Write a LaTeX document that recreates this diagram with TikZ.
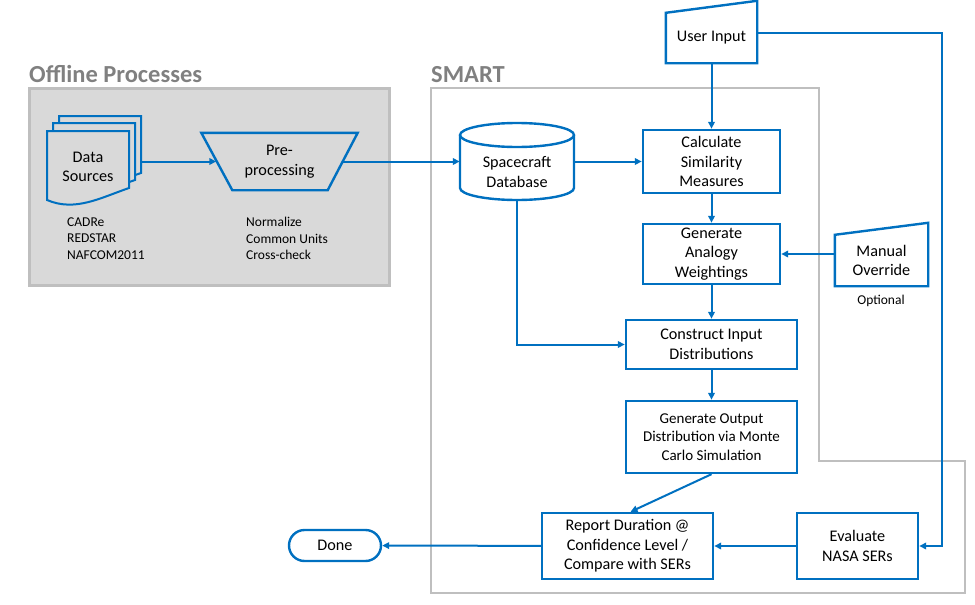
\documentclass[tikz,border=0pt]{standalone}
\usepackage{fontspec}
\setmainfont{Carlito}
\usetikzlibrary{arrows.meta}

\definecolor{smartblue}{RGB}{0,112,192}
\definecolor{panelgray}{RGB}{217,217,217}
\definecolor{framegray}{RGB}{191,191,191}
\definecolor{titlegray}{RGB}{128,128,128}

\begin{document}
\begin{tikzpicture}[x=1pt,y=-1pt,
  flow/.style={draw=smartblue,line width=2.4pt,fill=white,align=center,inner sep=0pt,font=\fontsize{16.2}{19.5}\selectfont},
  plain/.style={align=center,inner sep=0pt,font=\fontsize{16.2}{19.5}\selectfont},
  outline/.style={draw=smartblue,line width=2.4pt},
  note/.style={align=left,inner sep=0pt,font=\fontsize{13.5}{16.5}\selectfont},
  link/.style={draw=smartblue,line width=2pt},
  arr/.style={link,-{Triangle[length=7pt,width=6.5pt]}},
  title/.style={font=\fontsize{24.5}{26}\selectfont\bfseries,text=titlegray,inner sep=0pt,anchor=base west}]
\useasboundingbox (0,0) rectangle (975,605);

% Frames
\draw[framegray,line width=3pt,fill=panelgray] (29,88) rectangle (389,285);
\draw[framegray,line width=2.5pt] (431,88) -- (819,88) -- (819,461) -- (965,461) -- (965,593) -- (431,593) -- cycle;
\node[title] (offtitle) at (29,82) {Offline Processes};
\node[title] (smarttitle) at (431,82) {SMART};

% Data sources (stack of documents)
\foreach \dx/\dy in {12/-15,6/-8,0/0} {
  \draw[outline,line width=2pt,fill=panelgray,shift={(\dx,\dy)}] (47,131) -- (129,131) -- (129,188)
    .. controls (100,198) and (75,212) .. (47,200) -- cycle;
}
\node[plain,minimum width=82pt,minimum height=70pt] (src) at (88,167) {Data\\Sources};
\node[note,anchor=west] (srcnote) at (67,238.5) {CADRe\\REDSTAR\\NAFCOM2011};

% Pre-processing
\node[plain,minimum width=156pt,minimum height=57pt] (pre) at (279.5,161.5) {Pre-\\processing};
\draw[outline] (pre.north west) -- (pre.north east) -- ([xshift=-30pt]pre.south east) -- ([xshift=31pt]pre.south west) -- cycle;
\node[note,anchor=west] (prenote) at (246,238.5) {Normalize\\Common Units\\Cross-check};

% Database
\draw[outline,fill=white] (460,135) -- (460,188) arc[start angle=180,end angle=360,x radius=57pt,y radius=12pt] -- (574,135);
\draw[outline] (517,135) ellipse[x radius=57pt,y radius=12pt];
\node[plain,minimum width=114pt,minimum height=56pt] (db) at (517,172) {Spacecraft\\Database};

% SMART steps
\node[flow,minimum width=137pt,minimum height=63pt] (calc) at (711.5,161.5) {Calculate\\Similarity\\Measures};
\node[flow,minimum width=137pt,minimum height=60pt] (weigh) at (711.5,254) {Generate\\Analogy\\Weightings};
\node[flow,minimum width=171pt,minimum height=49pt] (inputs) at (711.5,344.5) {Construct Input\\Distributions};
\node[flow,minimum width=171pt,minimum height=72pt,font=\fontsize{15}{18.3}\selectfont] (monte) at (711.5,437) {Generate Output\\Distribution via Monte\\Carlo Simulation};
\node[flow,minimum width=171pt,minimum height=66pt] (report) at (627.5,546) {Report Duration @\\Confidence Level /\\Compare with SERs};
\node[flow,minimum width=121pt,minimum height=66pt] (sers) at (857.5,546) {Evaluate\\NASA SERs};
\node[flow,rounded corners=15.5pt,minimum width=92pt,minimum height=31pt] (done) at (335,545.5) {Done};

% Manual inputs
\node[plain,minimum width=91pt,minimum height=50pt] (user) at (711.5,38) {User Input};
\draw[outline] (user.south west) -- (user.north west) -- ([yshift=12pt]user.north east) -- (user.south east) -- cycle;
\node[plain,minimum width=93pt,minimum height=51pt] (manual) at (881.5,260.5) {Manual\\Override};
\draw[outline] (manual.south west) -- (manual.north west) -- ([yshift=12pt]manual.north east) -- (manual.south east) -- cycle;
\node[note,align=center] (optional) at (881,301) {Optional};

% Connectors
\coordinate (userturn) at (942,33);
\draw[arr] ([xshift=12pt]src.east |- pre.west) -- ([xshift=15pt]pre.west);
\draw[arr] ([xshift=-15pt]pre.east) -- (pre.east -| db.west);
\draw[arr] (db.east |- calc.west) -- (calc.west);
\draw[arr] (user.south) -- (calc.north);
\draw[arr] (calc) -- (weigh);
\draw[arr] (manual.west |- weigh.east) -- (weigh.east);
\draw[arr] (weigh) -- (inputs);
\draw[arr] (db.south) |- (inputs.west);
\draw[arr] (inputs) -- (monte);
\draw[arr] (monte.south) -- ([xshift=3pt]report.north);
\draw[arr] ([yshift=5pt]user.east) -- (userturn) |- (sers.east);
\draw[arr] (sers) -- (report);
\draw[arr] (report) -- (done);
\end{tikzpicture}
\end{document}
